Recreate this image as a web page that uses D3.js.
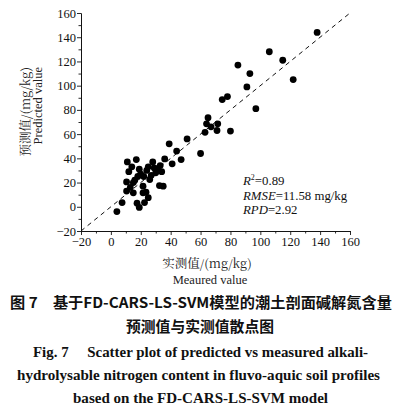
<!DOCTYPE html>
<html lang="zh">
<head>
<meta charset="UTF-8">
<title>FD-CARS-LS-SVM 散点图</title>
<style>
  body { margin: 0; background: #fff; }
  svg { display: block; }
  .tick text { font-family: "Liberation Serif", "DejaVu Serif", serif; font-size: 12.5px; fill: #111; }
  .axis path, .axis line { stroke: #111; stroke-width: 0.9; }
</style>
</head>
<body>
<div id="chart"></div>
<script src="https://d3js.org/d3.v7.min.js"></script>
<script>
// 实测值 (measured) and 预测值 (predicted), mg/kg
const measured = [138, 106, 115, 122, 85, 93, 91, 78, 74.5, 97, 65, 64, 67, 71.5, 63, 71, 80,
  60, 51, 44, 47, 39, 41, 36,
  11, 17, 12, 19, 24, 28, 33, 34, 30, 22, 18, 10.5, 15, 21.5, 32.5, 35, 10.5, 15, 21.5,
  25, 17.5, 22.5, 19, 7.5, 4, 26, 29, 25, 20, 16, 27, 14, 23.5, 31, 13];
const predicted = [144, 128, 121, 105, 117, 110, 99, 91, 88.5, 81, 73.5, 68.5, 66, 68.5, 61.5, 63, 62.5,
  44, 56, 46, 39, 52, 35.5, 39.5,
  37, 39, 29, 31, 30, 37, 34, 29, 28, 25, 25, 20.5, 20, 17, 17.5, 17, 13, 11.5, 11.5,
  7.5, 3, 3.5, -0.5, 3.5, -4, 22.5, 32, 33, 27, 22, 26, 33, 12, 31, 16];

const xTicks = [-20, 0, 20, 40, 60, 80, 100, 120, 140, 160];
const yTicks = [-20, 0, 20, 40, 60, 80, 100, 120, 140, 160];
const minorTicks = [-10, 10, 30, 50, 70, 90, 110, 130, 150];
const statsLines = [
  [["R", "i"], ["2", "sup"], ["=0.89", "n"]],
  [["RMSE", "i"], ["=11.58 mg/kg", "n"]],
  [["RPD", "i"], ["=2.92", "n"]]
];
const captionZh = ["图 7\u3000基于FD-CARS-LS-SVM模型的潮土剖面碱解氮含量", "预测值与实测值散点图"];
const captionEn = ["Fig. 7\u2003 Scatter plot of predicted vs measured alkali-",
  "hydrolysable nitrogen content in fluvo-aquic soil profiles",
  "based on the FD-CARS-LS-SVM model"];

const W = 411, H = 412;
const plotL = 81, plotR = 350, plotT = 13, plotB = 231;

const svg = d3.select("#chart").append("svg").attr("width", W).attr("height", H);

const x = d3.scaleLinear().domain([-20, 160]).range([plotL, plotR]);
const y = d3.scaleLinear().domain([-20, 160]).range([plotB, plotT]);

const fmt = d => d < 0 ? "\u2212" + (-d) : d;

// axes: major + minor ticks, outward
svg.append("g").attr("class", "axis")
  .attr("transform", `translate(0,${plotB})`)
  .call(d3.axisBottom(x).tickValues(xTicks).tickFormat(fmt).tickSize(4).tickSizeOuter(0).tickPadding(2));
svg.append("g").attr("class", "axis")
  .attr("transform", `translate(0,${plotB})`)
  .call(d3.axisBottom(x).tickValues(minorTicks).tickFormat("").tickSize(2.5).tickSizeOuter(0));
svg.append("g").attr("class", "axis")
  .attr("transform", `translate(${plotL},0)`)
  .call(d3.axisLeft(y).tickValues(yTicks).tickFormat(fmt).tickSize(4).tickSizeOuter(0).tickPadding(1));
svg.append("g").attr("class", "axis")
  .attr("transform", `translate(${plotL},0)`)
  .call(d3.axisLeft(y).tickValues(minorTicks).tickFormat("").tickSize(2.5).tickSizeOuter(0));

// 1:1 line
svg.append("line")
  .attr("x1", x(-20)).attr("y1", y(-20))
  .attr("x2", x(160)).attr("y2", y(160))
  .attr("stroke", "#111").attr("stroke-width", 1)
  .attr("stroke-dasharray", "4.5,4");

// points
svg.append("g").selectAll("circle")
  .data(measured.map((m, i) => [m, predicted[i]]))
  .join("circle")
  .attr("cx", d => x(d[0]))
  .attr("cy", d => y(d[1]))
  .attr("r", 3.4)
  .attr("fill", "#000");

// stats text
const st = svg.append("g").attr("font-family", "'Liberation Serif', serif").attr("font-size", 12.8).attr("fill", "#111");
statsLines.forEach((line, i) => {
  const t = st.append("text").attr("x", 243).attr("y", 185 + i * 14.5);
  line.forEach(([s, k]) => {
    const sp = t.append("tspan").text(s);
    if (k === "i") sp.attr("font-style", "italic");
    if (k === "sup") sp.attr("font-size", 8).attr("dy", -5);
    if (k === "n" && i === 0) sp.attr("dy", 5);
  });
});

// axis titles
const serif = "'Liberation Serif', 'Noto Sans CJK SC', serif";
svg.append("text").attr("transform", "translate(30,67) rotate(-90)")
  .attr("text-anchor", "end").attr("font-family", "'Noto Serif CJK SC', " + serif)
  .attr("font-size", 12.5).attr("fill", "#222").text("预测值/(mg/kg)");
svg.append("text").attr("transform", "translate(42,67) rotate(-90)")
  .attr("text-anchor", "end").attr("font-family", serif)
  .attr("font-size", 12.5).attr("fill", "#222").text("Predicted value");
svg.append("text").attr("x", 207).attr("y", 268).attr("text-anchor", "middle")
  .attr("font-family", "'Noto Serif CJK SC', " + serif).attr("font-size", 12.5).attr("fill", "#222")
  .text("实测值/(mg/kg)");
svg.append("text").attr("x", 210).attr("y", 284).attr("text-anchor", "middle")
  .attr("font-family", serif).attr("font-size", 12.5).attr("fill", "#222")
  .text("Meaured value");

// captions
svg.append("text").attr("x", 10).attr("y", 308)
  .attr("font-family", "'Noto Sans CJK SC', sans-serif").attr("font-weight", "bold")
  .attr("font-size", 14.5).attr("fill", "#111")
  .attr("textLength", 382).attr("lengthAdjust", "spacingAndGlyphs")
  .text(captionZh[0]);
svg.append("text").attr("x", 200).attr("y", 332).attr("text-anchor", "middle")
  .attr("font-family", "'Noto Sans CJK SC', sans-serif").attr("font-weight", "bold")
  .attr("font-size", 14.8).attr("fill", "#111")
  .text(captionZh[1]);
const enPos = [[33, 357, 335], [17, 380, 363], [73, 403, 255]];
captionEn.forEach((s, i) => {
  svg.append("text").attr("x", enPos[i][0]).attr("y", enPos[i][1])
    .attr("font-family", "'Liberation Serif', serif").attr("font-weight", "bold")
    .attr("font-size", 14).attr("fill", "#111")
    .attr("textLength", enPos[i][2]).attr("lengthAdjust", "spacingAndGlyphs")
    .text(s);
});
</script>
</body>
</html>
